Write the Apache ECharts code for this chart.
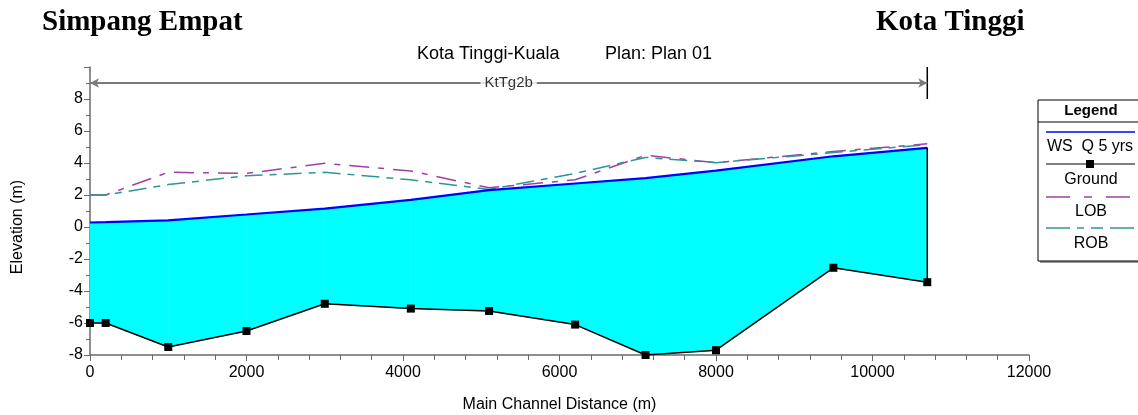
<!doctype html>
<html>
<head>
<meta charset="utf-8">
<title>Kota Tinggi-Kuala profile</title>
<script src="https://cdn.jsdelivr.net/npm/echarts@6/dist/echarts.min.js"></script>
<style>
    html,body{
        margin: 0;
        padding: 0;
        width: 100%;
        height: 100%;
        background: #fff;
    }
    #profile_chart{
        width: 1138px;
        height: 415px;
    }
</style>
</head>
<body>
    <div id="profile_chart"></div>
</body>

<script>
    // main channel stations (m)
    var stations = [0, 200, 1000, 2000, 3000, 4100, 5100, 6200, 7100, 8000, 9500, 10700];
    // elevations (m)
    var ground = [-6.0, -6.0, -7.5, -6.5, -4.8, -5.1, -5.25, -6.1, -8.0, -7.7, -2.55, -3.45];
    var wsQ5   = [0.28, 0.3, 0.42, 0.78, 1.15, 1.7, 2.3, 2.72, 3.05, 3.52, 4.42, 4.95];
    var lob    = [2.0, 2.0, 3.42, 3.35, 3.98, 3.5, 2.45, 2.95, 4.48, 4.02, 4.72, 5.2];
    var rob    = [2.0, 2.0, 2.65, 3.2, 3.42, 2.95, 2.35, 3.35, 4.35, 4.02, 4.65, 5.15];
    // reach marker
    var reachName = 'KtTg2b';
    var reachStart = 0, reachEnd = 10700, reachLevel = 9;
    // axes
    var xTicks = [0, 2000, 4000, 6000, 8000, 10000, 12000];
    var yTicks = [-8, -6, -4, -2, 0, 2, 4, 6, 8];

    function pairs(xs, ys){
        return xs.map(function(x, i){ return [x, ys[i]]; });
    }

    // one item per segment: x0, x1, ws0, ws1, bed0, bed1
    var waterSegs = [];
    for (var i = 0; i < stations.length - 1; i++) {
        waterSegs.push([stations[i], stations[i + 1], wsQ5[i], wsQ5[i + 1], ground[i], ground[i + 1]]);
    }
    var lastIdx = stations.length - 1;

    var LOB_COLOR = '#a040a4', ROB_COLOR = '#2e9694';

    function renderWater(params, api){
        var a = api.coord([api.value(0), api.value(2)]);
        var b = api.coord([api.value(1), api.value(3)]);
        var c = api.coord([api.value(1), api.value(5)]);
        var d = api.coord([api.value(0), api.value(4)]);
        return {
            type: 'polygon',
            shape: { points: [a, b, c, d] },
            style: { fill: '#00ffff', stroke: '#00ffff', lineWidth: 0.6 }
        };
    }

    var chart = echarts.init(document.getElementById('profile_chart'));

    var option = {
        animation: false,
        grid: { left: 90, right: 109, top: 67, bottom: 60, outerBoundsMode: 'none' },
        xAxis: {
            type: 'value',
            min: xTicks[0],
            max: xTicks[xTicks.length - 1],
            interval: 2000,
            name: 'Main Channel Distance (m)',
            nameLocation: 'middle',
            nameGap: 42,
            nameTextStyle: { color: '#000', fontSize: 16, fontFamily: 'Liberation Sans' },
            axisLine: { onZero: false, lineStyle: { color: '#6a6a6a', width: 1.5 } },
            axisTick: { inside: false, length: 6, lineStyle: { color: '#6a6a6a' } },
            minorTick: { show: true, splitNumber: 5, length: 5, lineStyle: { color: '#6a6a6a' } },
            axisLabel: {
                color: '#000', fontSize: 16, fontFamily: 'Liberation Sans', margin: 10,
                formatter: function(v){ return String(v); }
            },
            splitLine: { show: false }
        },
        yAxis: {
            type: 'value',
            min: -8,
            max: 10,
            interval: 2,
            axisLine: { show: true, onZero: false, lineStyle: { color: '#6a6a6a', width: 1.5 } },
            axisTick: { show: true, inside: false, length: 6, lineStyle: { color: '#6a6a6a' } },
            minorTick: { show: true, splitNumber: 2, length: 4, lineStyle: { color: '#6a6a6a' } },
            axisLabel: {
                color: '#000', fontSize: 16, fontFamily: 'Liberation Sans', margin: 7,
                formatter: function(v){ return yTicks.indexOf(v) >= 0 ? String(v) : ''; }
            },
            splitLine: { show: false }
        },
        graphic: [
            { type: 'text', left: 42, top: 8, style: { text: 'Simpang Empat', fontFamily: 'Liberation Serif', fontWeight: 'bold', fontSize: 29, fill: '#000' } },
            { type: 'text', left: 876, top: 8, style: { text: 'Kota Tinggi', fontFamily: 'Liberation Serif', fontWeight: 'bold', fontSize: 29, fill: '#000' } },
            { type: 'text', left: 417, top: 45, style: { text: 'Kota Tinggi-Kuala', fontFamily: 'Liberation Sans', fontSize: 18, fill: '#000' } },
            { type: 'text', left: 605, top: 45, style: { text: 'Plan: Plan 01', fontFamily: 'Liberation Sans', fontSize: 18, fill: '#000' } },
            { type: 'text', x: 18, y: 227, rotation: Math.PI / 2,
              style: { text: 'Elevation (m)', fontFamily: 'Liberation Sans', fontSize: 16, fill: '#000', align: 'center', verticalAlign: 'middle' } },
            // legend box
            { type: 'rect', shape: { x: 1040, y: 102, width: 110, height: 161 }, style: { fill: '#9a9a9a' }, z: 10 },
            { type: 'rect', shape: { x: 1038, y: 100, width: 110, height: 161 }, style: { fill: '#fff', stroke: '#000', lineWidth: 1 }, z: 11 },
            { type: 'line', shape: { x1: 1038, y1: 122, x2: 1148, y2: 122 }, style: { stroke: '#000', lineWidth: 1 }, z: 12 },
            { type: 'text', x: 1091, y: 111, z: 12, style: { text: 'Legend', fontFamily: 'Liberation Sans', fontWeight: 'bold', fontSize: 15, fill: '#000', align: 'center', verticalAlign: 'middle' } },
            { type: 'line', shape: { x1: 1046, y1: 132, x2: 1135, y2: 132 }, style: { stroke: '#0000ff', lineWidth: 1.5 }, z: 12 },
            { type: 'text', x: 1090, y: 147, z: 12, style: { text: 'WS  Q 5 yrs', fontFamily: 'Liberation Sans', fontSize: 16, fill: '#000', align: 'center', verticalAlign: 'middle' } },
            { type: 'line', shape: { x1: 1046, y1: 164, x2: 1135, y2: 164 }, style: { stroke: '#000', lineWidth: 1.2 }, z: 12 },
            { type: 'rect', shape: { x: 1086, y: 160, width: 8, height: 8 }, style: { fill: '#000' }, z: 12 },
            { type: 'text', x: 1091, y: 180, z: 12, style: { text: 'Ground', fontFamily: 'Liberation Sans', fontSize: 16, fill: '#000', align: 'center', verticalAlign: 'middle' } },
            { type: 'line', shape: { x1: 1046, y1: 197, x2: 1135, y2: 197 }, style: { stroke: LOB_COLOR, lineWidth: 1.5, lineDash: [24, 14, 8, 14] }, z: 12 },
            { type: 'text', x: 1091, y: 212, z: 12, style: { text: 'LOB', fontFamily: 'Liberation Sans', fontSize: 16, fill: '#000', align: 'center', verticalAlign: 'middle' } },
            { type: 'line', shape: { x1: 1046, y1: 228, x2: 1135, y2: 228 }, style: { stroke: ROB_COLOR, lineWidth: 1.5, lineDash: [24, 7, 7, 7, 12, 7] }, z: 12 },
            { type: 'text', x: 1091, y: 244, z: 12, style: { text: 'ROB', fontFamily: 'Liberation Sans', fontSize: 16, fill: '#000', align: 'center', verticalAlign: 'middle' } }
        ],
        series: [
            {
                name: 'water',
                type: 'custom',
                renderItem: renderWater,
                data: waterSegs,
                encode: { x: [0, 1], y: [2, 3, 4, 5] },
                silent: true,
                z: 1
            },
            {
                name: 'LOB',
                type: 'line',
                data: pairs(stations, lob),
                showSymbol: false,
                lineStyle: { color: LOB_COLOR, width: 1.5, type: [20, 9, 6, 9] },
                z: 3
            },
            {
                name: 'ROB',
                type: 'line',
                data: pairs(stations, rob),
                showSymbol: false,
                lineStyle: { color: ROB_COLOR, width: 1.5, type: [18, 7, 7, 7] },
                z: 3
            },
            {
                name: 'WS Q 5 yrs',
                type: 'line',
                data: pairs(stations, wsQ5),
                showSymbol: false,
                lineStyle: { color: '#0000ff', width: 2.2 },
                z: 4
            },
            {
                // closing edge of the water section at the last station
                name: 'edge',
                type: 'line',
                data: [[stations[lastIdx], ground[lastIdx]], [stations[lastIdx], wsQ5[lastIdx]]],
                showSymbol: false,
                lineStyle: { color: '#000', width: 1.5 },
                z: 4
            },
            {
                name: 'Ground',
                type: 'line',
                data: pairs(stations, ground),
                symbol: 'rect',
                symbolSize: 8,
                itemStyle: { color: '#000' },
                lineStyle: { color: '#000', width: 1.5 },
                z: 5
            },
            {
                // reach extent marker
                name: 'reach',
                type: 'line',
                data: [[reachEnd, 8], [reachEnd, 10]],
                showSymbol: false,
                lineStyle: { color: '#000', width: 1.5 },
                markLine: {
                    silent: true,
                    symbol: ['arrow', 'arrow'],
                    symbolSize: [7, 9],
                    label: { show: false },
                    lineStyle: { color: '#7a7a7a', width: 2, type: 'solid' },
                    data: [[{ coord: [reachStart, reachLevel] }, { coord: [reachEnd, reachLevel] }]]
                },
                z: 4
            },
            {
                name: 'reachLabel',
                type: 'scatter',
                data: [[(reachStart + reachEnd) / 2, reachLevel]],
                symbolSize: 0,
                label: {
                    show: true,
                    position: 'inside',
                    formatter: reachName,
                    color: '#000',
                    fontFamily: 'Liberation Sans',
                    fontSize: 15,
                    backgroundColor: '#fff',
                    padding: [0, 4]
                },
                z: 6
            }
        ]
    };

    chart.setOption(option);
</script>
</html>
